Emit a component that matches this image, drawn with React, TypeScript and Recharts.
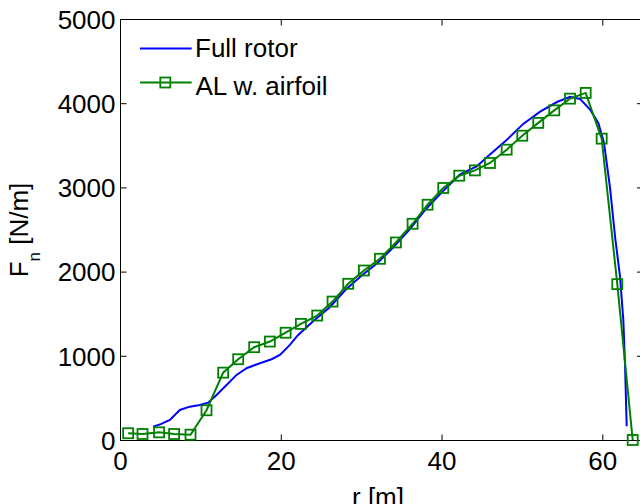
import React from 'react';
import { LineChart, Line, XAxis, YAxis, Legend } from 'recharts';

const FONT = '"Liberation Sans", Arial, Helvetica, sans-serif';

// Full rotor (blue) radial positions [m] and normal force [N/m]
const fullR = [4.06, 5.0, 6.14, 7.38, 8.62, 9.87, 10.9, 11.95, 13.19, 14.44, 15.68, 17.34, 18.79, 19.83, 21.07, 22.1, 24.0, 26.0, 28.0, 30.0, 32.0, 34.0, 36.0, 38.0, 40.0, 42.2, 44.3, 46.0, 48.0, 50.1, 52.2, 54.3, 55.92, 57.17, 58.41, 59.44, 60.15, 60.9, 61.52, 62.14, 62.55, 62.76, 62.97];
const fullF = [164, 195, 244, 363, 402, 422, 449, 541, 660, 779, 858, 918, 965, 1017, 1136, 1254, 1420, 1580, 1790, 1960, 2110, 2300, 2510, 2750, 2950, 3157, 3255, 3400, 3565, 3760, 3905, 4020, 4081, 4057, 3930, 3771, 3534, 3000, 2423, 1948, 1433, 918, 170];

// AL w. airfoil (green, square markers)
const alR = [0.95, 2.74, 4.8, 6.67, 8.71, 10.7, 12.77, 14.64, 16.63, 18.58, 20.54, 22.44, 24.47, 26.38, 28.33, 30.28, 32.27, 34.26, 36.34, 38.2, 40.15, 42.14, 44.09, 45.96, 48.04, 49.98, 51.97, 53.96, 55.92, 57.87, 59.86, 61.8, 63.72];
const alF = [86, 77, 97, 77, 69, 359, 806, 965, 1108, 1175, 1280, 1385, 1484, 1650, 1861, 2019, 2158, 2352, 2574, 2800, 2999, 3145, 3208, 3296, 3454, 3620, 3772, 3921, 4060, 4128, 3585, 1857, 6];

const xTicks = [0, 20, 40, 60];
const yTicks = [0, 1000, 2000, 3000, 4000, 5000];
const seriesNames = ['Full rotor', 'AL w. airfoil'];
const xLabel = 'r [m]';

const fullData = fullR.map((r, i) => ({ x: r, y: fullF[i] }));
const alData = alR.map((r, i) => ({ x: r, y: alF[i] }));

const BLUE = '#0000ff';
const GREEN = '#008000';

const XTick = (props: any) => (
  <text x={props.x} y={469.5} textAnchor="middle" fontSize={26} fontFamily={FONT} fill="#000">
    {props.payload.value}
  </text>
);

const YTick = (props: any) => (
  <text x={115.5} y={props.y + 9.3} textAnchor="end" fontSize={26} fontFamily={FONT} fill="#000">
    {props.payload.value}
  </text>
);

const NoTick = () => <g />;

const Square = (p: any) => (
  <rect
    key={`sq-${p.index}`}
    x={p.cx - 5}
    y={p.cy - 5}
    width={10}
    height={10}
    fill="none"
    stroke={GREEN}
    strokeWidth={1.8}
  />
);

const renderLegend = () => (
  <svg width={420} height={110} style={{ display: 'block' }}>
    <line x1={140} x2={191.7} y1={48.5} y2={48.5} stroke={BLUE} strokeWidth={2} />
    <text x={195} y={56.7} fontSize={26} fontFamily={FONT} fill="#000">{seriesNames[0]}</text>
    <line x1={140} x2={191.7} y1={82.5} y2={82.5} stroke={GREEN} strokeWidth={2} />
    <rect x={160.3} y={77.5} width={10} height={10} fill="none" stroke={GREEN} strokeWidth={1.8} />
    <text x={195.5} y={95} fontSize={26} fontFamily={FONT} fill="#000">{seriesNames[1]}</text>
  </svg>
);

const YLabel = () => (
  <text
    x={28.3}
    y={230}
    transform="rotate(-90, 28.3, 230)"
    textAnchor="middle"
    fontSize={26}
    fontFamily={FONT}
    fill="#000"
  >
    F
    <tspan fontSize={17} dy={12}>n</tspan>
    <tspan fontSize={26} dy={-12}> [N/m]</tspan>
  </text>
);

const XLabel = () => (
  <text x={378} y={505.5} textAnchor="middle" fontSize={26} fontFamily={FONT} fill="#000">
    {xLabel}
  </text>
);

export default function App() {
  return (
    <div style={{ position: 'absolute', left: 0, top: 0, width: 640, height: 504, overflow: 'hidden', background: '#fff' }}>
      <LineChart width={660} height={504} margin={{ top: 18.5, right: 16, bottom: 0, left: 0 }}>
        <XAxis
          xAxisId="b"
          type="number"
          dataKey="x"
          domain={[0, 65]}
          ticks={xTicks}
          orientation="bottom"
          height={63.5}
          tickSize={-6}
          tick={XTick}
          stroke="#000"
          axisLine={{ stroke: '#000', strokeWidth: 1 }}
          tickLine={{ stroke: '#000', strokeWidth: 1 }}
          label={{ content: XLabel }}
        />
        <XAxis
          xAxisId="t"
          type="number"
          dataKey="x"
          domain={[0, 65]}
          ticks={xTicks}
          orientation="top"
          height={1}
          tickSize={-6}
          tick={NoTick}
          axisLine={{ stroke: '#000', strokeWidth: 1 }}
          tickLine={{ stroke: '#000', strokeWidth: 1 }}
        />
        <YAxis
          yAxisId="l"
          type="number"
          domain={[0, 5000]}
          ticks={yTicks}
          orientation="left"
          width={120.5}
          tickSize={-6}
          tick={YTick}
          axisLine={{ stroke: '#000', strokeWidth: 1 }}
          tickLine={{ stroke: '#000', strokeWidth: 1 }}
          label={{ content: YLabel }}
        />
        <YAxis
          yAxisId="r"
          type="number"
          domain={[0, 5000]}
          ticks={yTicks}
          orientation="right"
          width={1}
          tickSize={-6}
          tick={NoTick}
          axisLine={{ stroke: '#000', strokeWidth: 1 }}
          tickLine={{ stroke: '#000', strokeWidth: 1 }}
        />
        <Legend
          layout="horizontal"
          verticalAlign="middle"
          align="center"
          content={renderLegend}
          wrapperStyle={{ left: 0, top: 0, width: 420, height: 110 }}
        />
        <Line
          xAxisId="b"
          yAxisId="l"
          data={fullData}
          dataKey="y"
          name={seriesNames[0]}
          type="linear"
          stroke={BLUE}
          strokeWidth={2}
          dot={false}
          activeDot={false}
          isAnimationActive={false}
        />
        <Line
          xAxisId="t"
          yAxisId="r"
          data={alData}
          dataKey="y"
          name={seriesNames[1]}
          type="linear"
          stroke={GREEN}
          strokeWidth={2}
          dot={Square}
          activeDot={false}
          isAnimationActive={false}
        />
      </LineChart>
    </div>
  );
}
